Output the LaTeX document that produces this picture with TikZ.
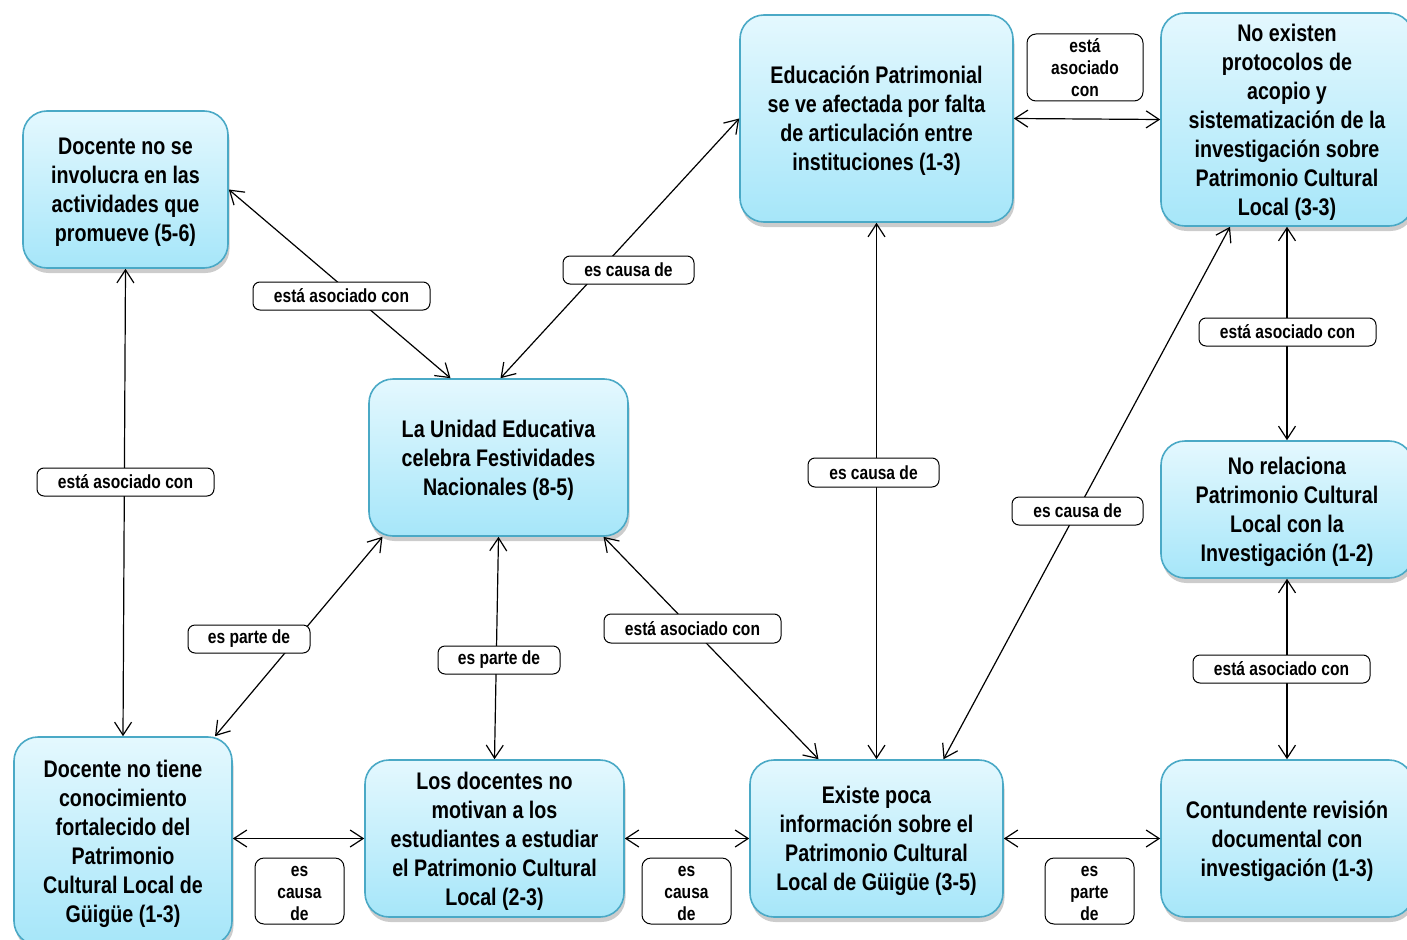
\documentclass[tikz,border=0pt]{standalone}
\usepackage{fontspec}
\setmainfont{Liberation Sans}[FakeStretch=0.82]
\usetikzlibrary{arrows.meta,shadows,calc}
\definecolor{boxtop}{HTML}{E4F8FE}
\definecolor{boxbot}{HTML}{A6E6F9}
\definecolor{boxline}{HTML}{4AA9C6}
\tikzset{
  concept/.style={draw=boxline, line width=1.6pt, rounded corners=24pt,
    top color=boxtop, bottom color=boxbot, align=center, inner sep=4pt,
    font=\bfseries\fontsize{24}{29}\selectfont, text depth=-2pt,
    drop shadow={shadow xshift=1.5pt, shadow yshift=-5pt, opacity=0.4}},
  linkbox/.style={draw=black, line width=1pt, fill=white, rounded corners=7pt,
    align=center, inner sep=0pt, font=\bfseries\fontsize{19}{22}\selectfont},
  linktxt/.style={align=center, inner sep=0pt, font=\bfseries\fontsize{19}{22}\selectfont},
  conn/.style={line width=1.2pt, {Straight Barb[length=13pt,width=17pt]}-{Straight Barb[length=13pt,width=17pt]}}
}
\begin{document}
\begin{tikzpicture}[x=1pt,y=-1pt]
\useasboundingbox (0,0) rectangle (1407,939);
% concept nodes
\node[concept, minimum width=205pt, minimum height=157pt] (A) at (125.5,189.5)
  {Docente no se\\involucra en las\\actividades que\\promueve (5-6)};
\node[concept, minimum width=259pt, minimum height=157pt] (B) at (498.5,457.5)
  {La Unidad Educativa\\celebra Festividades\\Nacionales (8-5)};
\node[concept, minimum width=273pt, minimum height=207pt] (C) at (876.5,118.5)
  {Educación Patrimonial\\se ve afectada por falta\\de articulación entre\\instituciones (1-3)};
\node[concept, minimum width=252pt, minimum height=213pt] (D) at (1287,119.5)
  {No existen\\protocolos de\\acopio y\\sistematización de la\\investigación sobre\\Patrimonio Cultural\\Local (3-3)};
\node[concept, minimum width=252pt, minimum height=137pt] (E) at (1287,509.5)
  {No relaciona\\Patrimonio Cultural\\Local con la\\Investigación (1-2)};
\node[concept, minimum width=252pt, minimum height=157pt] (F) at (1287,838.5)
  {Contundente revisión\\documental con\\investigación (1-3)};
\node[concept, minimum width=253pt, minimum height=157pt] (G) at (876.5,838.5)
  {Existe poca\\información sobre el\\Patrimonio Cultural\\Local de Güigüe (3-5)};
\node[concept, minimum width=259pt, minimum height=157pt] (H) at (494.5,838.5)
  {Los docentes no\\motivan a los\\estudiantes a estudiar\\el Patrimonio Cultural\\Local (2-3)};
\node[concept, minimum width=218pt, minimum height=208pt] (I) at (123,841)
  {Docente no tiene\\conocimiento\\fortalecido del\\Patrimonio\\Cultural Local de\\Güigüe (1-3)};
% connectors
\draw[conn] (A.east) -- ([xshift=-48pt]B.north);
\draw[conn] ([xshift=2pt]B.north) -- (C.west);
\draw[conn] (C.east) -- (D.west);
\draw[conn] (C.south) -- (G.north);
\draw[conn] ([xshift=-57pt]D.south) -- ([xshift=67pt]G.north);
\draw[conn] (D.south) -- (E.north);
\draw[conn] (E.south) -- (F.north);
\draw[conn] (A.south) -- (I.north);
\draw[conn] ([xshift=92pt]I.north) -- ([xshift=-116pt]B.south);
\draw[conn] (H.north) -- (B.south);
\draw[conn] ([xshift=-58pt]G.north) -- ([xshift=105pt]B.south);
\draw[conn] (I.east |- H.west) -- (H.west);
\draw[conn] (H.east) -- (G.west);
\draw[conn] (G.east) -- (F.west);
% link labels
\node[linkbox, minimum width=177pt, minimum height=28pt] (L1) at (341.5,296) {está asociado con};
\node[linkbox, minimum width=131pt, minimum height=28pt] (L2) at (628.5,270) {es causa de};
\node[linkbox, minimum width=116pt, minimum height=67pt, rounded corners=9pt] (L3) at (1085,67.5) {};
\node[linktxt] at (1085,68) {está\\asociado\\con};
\node[linkbox, minimum width=131pt, minimum height=29pt] (L4) at (873.5,472.5) {es causa de};
\node[linkbox, minimum width=131pt, minimum height=28pt] (L5) at (1077.5,511) {es causa de};
\node[linkbox, minimum width=177pt, minimum height=28pt] (L6) at (1287.5,332) {está asociado con};
\node[linkbox, minimum width=177pt, minimum height=28pt] (L7) at (1281.5,669) {está asociado con};
\node[linkbox, minimum width=177pt, minimum height=28pt] (L8) at (125.5,482) {está asociado con};
\node[linkbox, minimum width=122pt, minimum height=28pt] (L9) at (249,639) {es parte de};
\node[linkbox, minimum width=122pt, minimum height=28pt] (L10) at (499,660) {es parte de};
\node[linkbox, minimum width=177pt, minimum height=29pt] (L11) at (692.5,628.5) {está asociado con};
\node[linkbox, minimum width=89pt, minimum height=66pt, rounded corners=9pt] (L12) at (299.5,891) {};
\node[linktxt] at (299.5,893) {es\\causa\\de};
\node[linkbox, minimum width=89pt, minimum height=66pt, rounded corners=9pt] (L13) at (686.5,891) {};
\node[linktxt] at (686.5,893) {es\\causa\\de};
\node[linkbox, minimum width=89pt, minimum height=66pt, rounded corners=9pt] (L14) at (1089.5,891) {};
\node[linktxt] at (1089.5,893) {es\\parte\\de};
\end{tikzpicture}
\end{document}
